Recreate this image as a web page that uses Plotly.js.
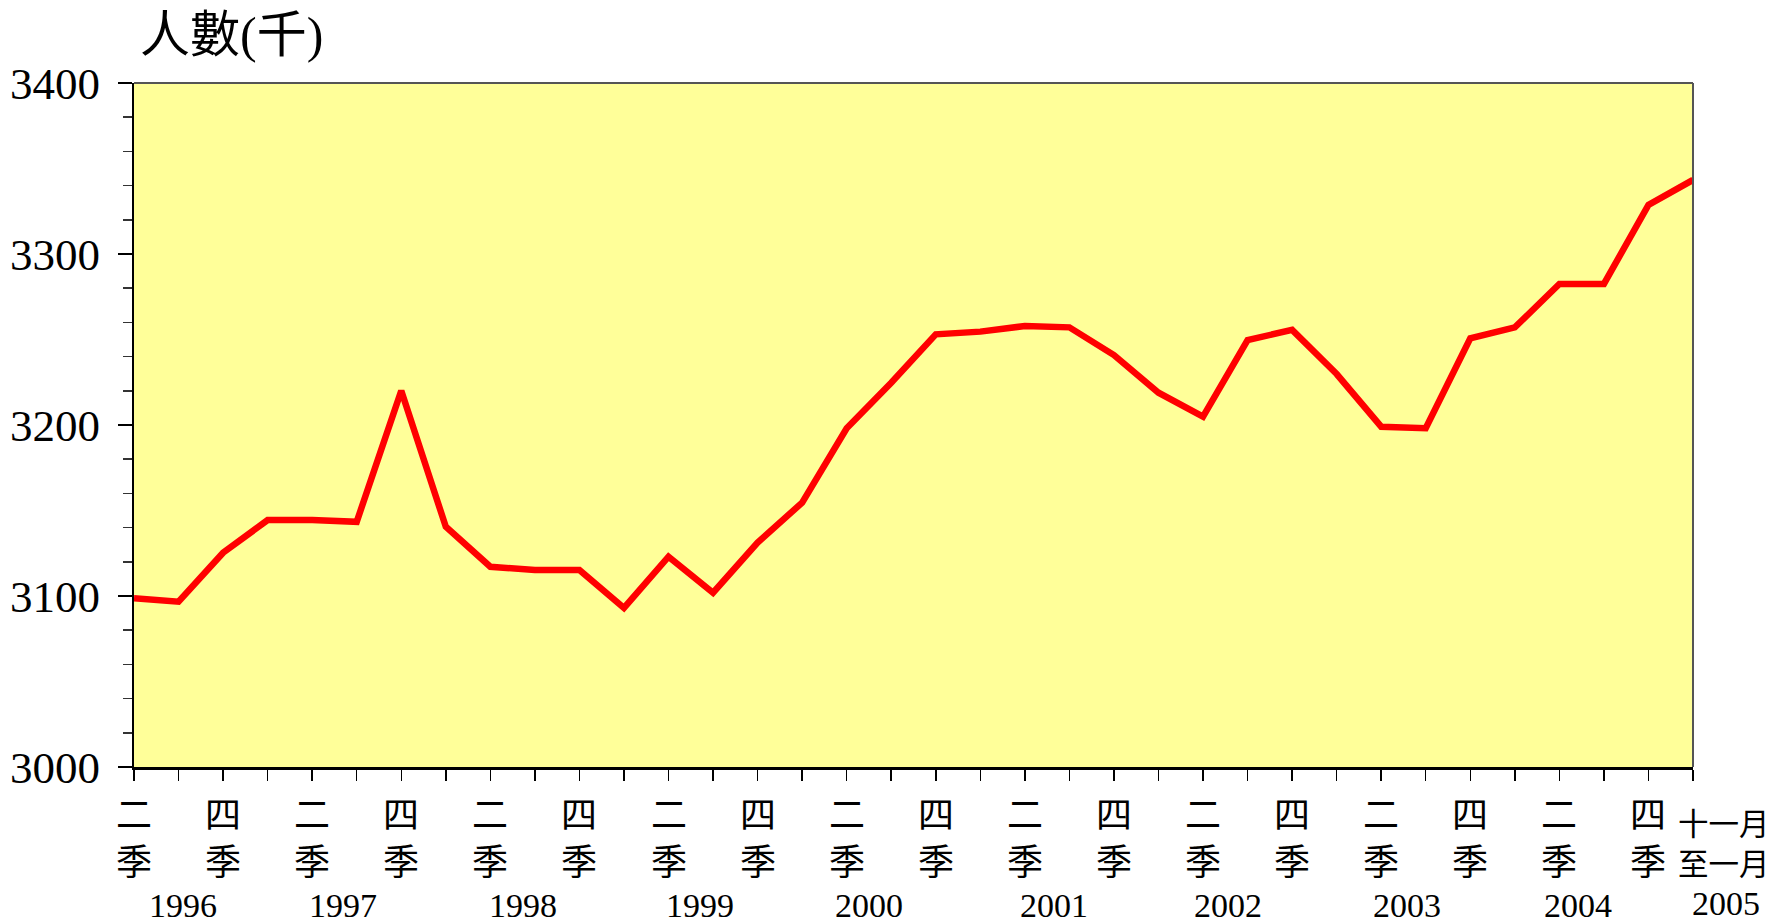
<!DOCTYPE html>
<html>
<head>
<meta charset="utf-8">
<script src="https://cdn.plot.ly/plotly-3.0.1.min.js"></script>
<style>
  html, body { margin: 0; padding: 0; background: #ffffff; }
  #chart { width: 1772px; height: 924px; }
</style>
</head>
<body>
<div id="chart"></div>
<script>
// ---- data ----
// employed persons (thousands), 1996 Q2 ... 2004 Q4, then Nov 2004 - Jan 2005
const employed = [3098.7, 3096.7, 3125.3, 3144.4, 3144.4, 3143.4, 3220.0, 3140.5, 3117.1, 3115.2,
                  3115.2, 3093.0, 3123.0, 3101.9, 3131.2, 3154.6, 3198.1, 3224.7, 3253.0, 3254.6,
                  3257.9, 3257.1, 3240.9, 3218.9, 3204.9, 3249.7, 3255.6, 3229.8, 3199.0, 3198.1,
                  3250.7, 3257.1, 3282.5, 3282.5, 3328.7, 3343.3];
const tickTop = ['二','','四','','二','','四','','二','','四','','二','','四','','二','','四','',
                 '二','','四','','二','','四','','二','','四','','二','','四','十一月'];
const tickBottom = ['季','','季','','季','','季','','季','','季','','季','','季','','季','','季','',
                    '季','','季','','季','','季','','季','','季','','季','','季','至一月'];
const yearLabels = ['1996','1997','1998','1999','2000','2001','2002','2003','2004','2005'];
const yTicks = [3000, 3100, 3200, 3300, 3400];
const titleText = '人數(千)';

// ---- layout constants (positions / styles) ----
const W = 1772, H = 924;
const L = 134, R = 1693, T = 83, B = 767;
const plotH = B - T;
const yearPos = [1.11, 4.69, 8.74, 12.71, 16.49, 20.66, 24.56, 28.57, 32.42, 35.74];
const lastShift = 0.69;
const serif = 'Liberation Serif, Times New Roman, serif';
const cjk = 'Noto Sans CJK TC, Noto Sans CJK SC, sans-serif';
const py = p => (B - p) / plotH; // pixel y -> paper y

const xs = employed.map((_, i) => i);
const last = employed.length - 1;
const px = idx => idx / last;    // index -> paper x

const annotations = [];
tickTop.forEach((t, i) => {
  if (!t) return;
  const isLast = i === last;
  annotations.push({
    x: px(isLast ? i + lastShift : i), xref: 'paper',
    y: py(isLast ? 822 : 812), yref: 'paper',
    text: t, showarrow: false, xanchor: 'center', yanchor: 'middle',
    font: {family: cjk, size: isLast ? 30.5 : 36, color: '#000'}
  });
});
tickBottom.forEach((t, i) => {
  if (!t) return;
  const isLast = i === last;
  annotations.push({
    x: px(isLast ? i + lastShift : i), xref: 'paper',
    y: py(isLast ? 862 : 859), yref: 'paper',
    text: t, showarrow: false, xanchor: 'center', yanchor: 'middle',
    font: {family: cjk, size: isLast ? 30.5 : 36, color: '#000'}
  });
});
yearLabels.forEach((t, k) => {
  annotations.push({
    x: px(yearPos[k]), xref: 'paper',
    y: py(k === yearLabels.length - 1 ? 903.5 : 905), yref: 'paper',
    text: t, showarrow: false, xanchor: 'center', yanchor: 'middle',
    font: {family: serif, size: 34, color: '#000'}
  });
});

const trace = {
  x: xs, y: employed, type: 'scatter', mode: 'lines',
  line: {color: '#ff0000', width: 6.5},
  hoverinfo: 'skip', cliponaxis: true
};

const layout = {
  width: W, height: H,
  margin: {l: L, r: W - R, t: T, b: H - B, pad: 0},
  paper_bgcolor: '#ffffff',
  plot_bgcolor: '#ffff99',
  showlegend: false,
  title: {
    text: titleText, xref: 'container', yref: 'container',
    x: 140 / W, xanchor: 'left', y: 1 - 34 / H, yanchor: 'middle',
    font: {family: 'Liberation Serif, Noto Sans CJK TC', size: 50, color: '#000'}
  },
  xaxis: {
    range: [0, last], tickvals: xs, ticks: 'outside', ticklen: 11, tickwidth: 1.5,
    tickcolor: '#000', showticklabels: false, showline: true, linecolor: '#000',
    linewidth: 3, showgrid: false, zeroline: false, fixedrange: true
  },
  yaxis: {
    range: [3000, 3400], tickvals: yTicks, ticktext: yTicks.map(String),
    ticks: 'outside', ticklen: 14, tickwidth: 1.5, tickcolor: '#000',
    minor: {dtick: 20, tick0: 3000, ticks: 'outside', ticklen: 9, tickwidth: 1.5, tickcolor: '#333', showgrid: false},
    showline: true, linecolor: '#000', linewidth: 2, showgrid: false, zeroline: false,
    tickfont: {family: serif, size: 45, color: '#000'}, ticklabelstandoff: 9, fixedrange: true
  },
  shapes: [
    {type: 'line', xref: 'paper', yref: 'paper', x0: 0, x1: 1, y0: 1, y1: 1, line: {color: '#555', width: 2}},
    {type: 'line', xref: 'paper', yref: 'paper', x0: 1, x1: 1, y0: 0, y1: 1, line: {color: '#555', width: 2}}
  ],
  annotations: annotations
};

Plotly.newPlot('chart', [trace], layout, {displayModeBar: false, staticPlot: true});
</script>
</body>
</html>
